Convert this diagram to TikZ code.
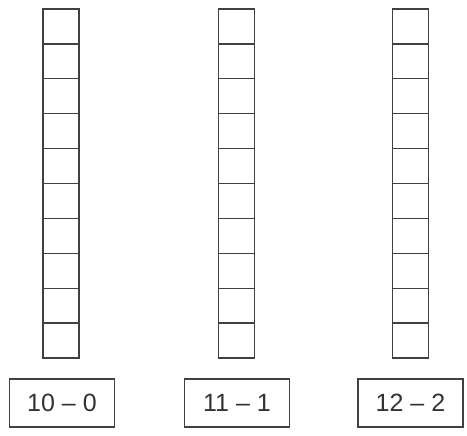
\documentclass[tikz,border=0pt]{standalone}
\usepackage{fontspec}
\setmainfont{Liberation Sans}
\begin{document}
\begin{tikzpicture}[x=1pt,y=-1pt,
  cell/.style={draw=black!75, line width=1.3pt, minimum width=36pt, minimum height=34.9pt, inner sep=0pt, outer sep=0pt},
  label box/.style={draw=black!75, line width=1.3pt, minimum width=105pt, minimum height=48pt, inner sep=0pt, font=\fontsize{25}{25}\selectfont, text=black!80}]
\useasboundingbox (0,0) rectangle (467,436);
\foreach \c/\x in {1/61,2/236.5,3/410.5}{
  \foreach \i in {0,...,9}{
    \node[cell] (c\c-\i) at (\x, 9+17.45+34.9*\i) {};
  }
}
\node[label box] (b1) at (62,403) {10 – 0};
\node[label box] (b2) at (237,403) {11 – 1};
\node[label box] (b3) at (410.5,403) {12 – 2};
\end{tikzpicture}
\end{document}
